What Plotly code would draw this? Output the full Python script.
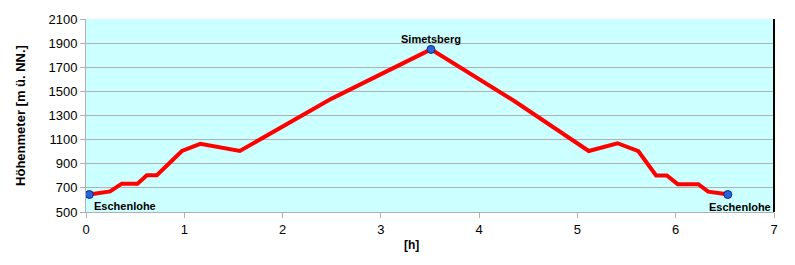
import plotly.graph_objects as go

# Data
hours = [0.034, 0.245, 0.364, 0.524, 0.619, 0.721, 0.976, 1.163, 1.565, 2.5, 3.51,
         4.35, 5.115, 5.408, 5.62, 5.80, 5.91, 6.02, 6.23, 6.33, 6.45, 6.53]
elev = [645, 671, 735, 735, 805, 805, 1006, 1065, 1006, 1440, 1848,
        1424, 1006, 1070, 1004, 803, 803, 731, 731, 669, 655, 645]

poi_hours = [0.034, 3.51, 6.53]
poi_elev = [645, 1848, 645]
poi_names = ["Eschenlohe", "Simetsberg", "Eschenlohe"]

x_ticks = [0, 1, 2, 3, 4, 5, 6, 7]
y_ticks = [500, 700, 900, 1100, 1300, 1500, 1700, 1900, 2100]

fig = go.Figure()
fig.add_trace(go.Scatter(x=hours, y=elev, mode="lines",
                         line=dict(color="#ff0000", width=4), hoverinfo="skip"))
fig.add_trace(go.Scatter(x=poi_hours, y=poi_elev, mode="markers",
                         marker=dict(color="#2a62d8", size=8,
                                     line=dict(color="#0a2a8a", width=1)),
                         hoverinfo="skip"))

label_font = dict(family="Liberation Sans, Arial", size=11, color="black")
fig.add_annotation(x=poi_hours[0], y=poi_elev[0], text="<b>%s</b>" % poi_names[0],
                   showarrow=False, xanchor="left", yanchor="top", xshift=3, yshift=-3,
                   font=label_font)
fig.add_annotation(x=poi_hours[1], y=poi_elev[1], text="<b>%s</b>" % poi_names[1],
                   showarrow=False, xanchor="center", yanchor="bottom", yshift=2,
                   font=label_font)
fig.add_annotation(x=1, xref="paper", y=poi_elev[2], text="<b>%s</b>" % poi_names[2],
                   showarrow=False, xanchor="right", yanchor="top", xshift=-1, yshift=-4,
                   font=label_font)
fig.add_annotation(x=(411 - 86) / (773 - 86), xref="paper", y=0, yref="paper",
                   text="<b>[h]</b>", showarrow=False, xanchor="center", yanchor="top",
                   yshift=-24, font=dict(family="Liberation Sans, Arial", size=12, color="black"))

fig.add_shape(type="line", xref="paper", yref="paper", x0=1, x1=1, y0=0, y1=1,
              line=dict(color="black", width=2))

fig.update_layout(
    width=795, height=265,
    margin=dict(l=86, r=21, t=13, b=53),
    paper_bgcolor="white", plot_bgcolor="#ccffff",
    showlegend=False,
    font=dict(family="Liberation Sans, Arial", size=13, color="black"),
    xaxis=dict(range=[0, 7], tickvals=x_ticks, showgrid=False, zeroline=False,
               showline=True, linecolor="#b0b0b0", linewidth=1,
               ticks="outside", ticklen=5, tickcolor="#b0b0b0",
               tickfont=dict(size=13)),
    yaxis=dict(range=[500, 2100], tickvals=y_ticks, showgrid=True, gridcolor="#b0b0b0",
               gridwidth=1, zeroline=False, showline=True, linecolor="#b0b0b0",
               ticks="outside", ticklen=5, tickcolor="#b0b0b0",
               tickfont=dict(size=13),
               title=dict(text="<b>Höhenmeter [m ü. NN.]</b>", standoff=19,
                          font=dict(family="Liberation Sans, Arial", size=13))),
)

fig.write_html("out.html")
